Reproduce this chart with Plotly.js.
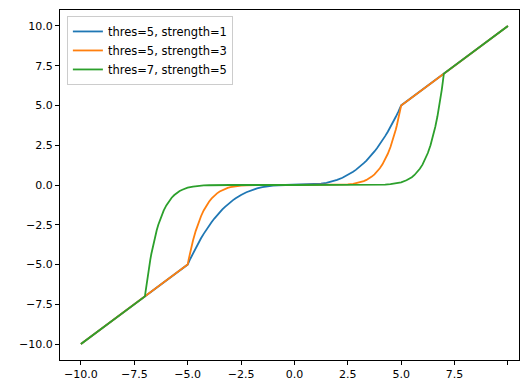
<!DOCTYPE html>
<html>
<head>
<meta charset="utf-8">
<script src="https://cdn.plot.ly/plotly-3.0.1.min.js"></script>
<style>html,body{margin:0;padding:0;background:#fff;}#plot{width:520px;height:380px;}</style>
</head>
<body>
<div id="plot"></div>
<script>
// Series 1: thres=5, strength=1
const xBlue = [-10, -5, -4.875, -4.75, -4.625, -4.5, -4.375, -4.25, -4.125, -4, -3.875, -3.75, -3.625, -3.5, -3.375, -3.25, -3.125, -3, -2.875, -2.75, -2.625, -2.5, -2.25, -2, -1.75, -1.5, -1.25, -1, -0.75, -0.5, -0.25, 0,
               0.25, 0.5, 0.75, 1, 1.25, 1.5, 1.75, 2, 2.25, 2.5, 2.625, 2.75, 2.875, 3, 3.125, 3.25, 3.375, 3.5, 3.625, 3.75, 3.875, 4, 4.125, 4.25, 4.375, 4.5, 4.625, 4.75, 4.875, 5, 10];
const yBlue = [-10, -5, -4.634, -4.287, -3.957, -3.645, -3.350, -3.071, -2.808, -2.56, -2.327, -2.109, -1.905, -1.715, -1.538, -1.373, -1.221, -1.08, -0.951, -0.832, -0.723, -0.625, -0.456, -0.32, -0.214, -0.135, -0.078, -0.04, -0.017, -0.005, -0.001, 0,
               0.001, 0.005, 0.017, 0.04, 0.078, 0.135, 0.214, 0.32, 0.456, 0.625, 0.723, 0.832, 0.951, 1.08, 1.221, 1.373, 1.538, 1.715, 1.905, 2.109, 2.327, 2.56, 2.808, 3.071, 3.350, 3.645, 3.957, 4.287, 4.634, 5, 10];

// Series 2: thres=5, strength=3
const xOrange = [-10, -5, -4.95, -4.9, -4.8, -4.75, -4.625, -4.5, -4.375, -4.25, -4.125, -4, -3.875, -3.75, -3.625, -3.5, -3.375, -3.25, -3.125, -3, -2.75, -2.5, -2.25, -2, -1.75, -1.5, -1, 0,
                 1, 1.5, 1.75, 2, 2.25, 2.5, 2.75, 3, 3.125, 3.25, 3.375, 3.5, 3.625, 3.75, 3.875, 4, 4.125, 4.25, 4.375, 4.5, 4.625, 4.75, 4.8, 4.9, 4.95, 5, 10];
const yOrange = [-10, -5, -4.66, -4.34, -3.757, -3.49, -2.897, -2.39, -1.963, -1.60, -1.30, -1.05, -0.840, -0.667, -0.527, -0.412, -0.319, -0.245, -0.186, -0.14, -0.076, -0.039, -0.019, -0.008, -0.003, -0.001, -0.0001, 0,
                 0.0001, 0.001, 0.003, 0.008, 0.019, 0.039, 0.076, 0.14, 0.186, 0.245, 0.319, 0.412, 0.527, 0.667, 0.840, 1.05, 1.30, 1.60, 1.963, 2.39, 2.897, 3.49, 3.757, 4.34, 4.66, 5, 10];

// Series 3: thres=7, strength=5
const xGreen = [-10, -7, -6.975, -6.95, -6.9, -6.85, -6.8, -6.75, -6.7, -6.6, -6.55, -6.5, -6.45, -6.375, -6.25, -6.125, -6, -5.875, -5.75, -5.625, -5.5, -5.375, -5.25, -5, -4.75, -4.5, -4.25, -4, -3.5, -3, 0,
                3, 3.5, 4, 4.25, 4.5, 4.75, 5, 5.25, 5.375, 5.5, 5.625, 5.75, 5.875, 6, 6.125, 6.25, 6.375, 6.45, 6.5, 6.55, 6.6, 6.7, 6.75, 6.8, 6.85, 6.9, 6.95, 6.975, 7, 10];
const yGreen = [-10, -7, -6.73, -6.47, -5.97, -5.52, -5.09, -4.69, -4.32, -3.66, -3.37, -3.10, -2.85, -2.50, -2.01, -1.61, -1.28, -1.02, -0.80, -0.63, -0.49, -0.38, -0.30, -0.17, -0.098, -0.054, -0.029, -0.015, -0.003, -0.0006, 0,
                0.0006, 0.003, 0.015, 0.029, 0.054, 0.098, 0.17, 0.30, 0.38, 0.49, 0.63, 0.80, 1.02, 1.28, 1.61, 2.01, 2.50, 2.85, 3.10, 3.37, 3.66, 4.32, 4.69, 5.09, 5.52, 5.97, 6.47, 6.73, 7, 10];

const seriesNames = ["thres=5, strength=1", "thres=5, strength=3", "thres=7, strength=5"];
const xTickVals = [-10, -7.5, -5, -2.5, 0, 2.5, 5, 7.5, 10];
const yTickVals = [-10, -7.5, -5, -2.5, 0, 2.5, 5, 7.5, 10];

const font = {family: "DejaVu Sans, sans-serif", size: 11, color: "#000"};
const mk = (x, y, name, color) => ({x, y, name, type: "scatter", mode: "lines",
  line: {color, width: 1.8}, hoverinfo: "skip"});

const data = [
  mk(xBlue, yBlue, seriesNames[0], "#1f77b4"),
  mk(xOrange, yOrange, seriesNames[1], "#ff7f0e"),
  mk(xGreen, yGreen, seriesNames[2], "#2ca02c")
];

const axisBase = {showgrid: false, zeroline: false, showline: true, mirror: true,
  linecolor: "#000", linewidth: 1, ticks: "outside", ticklen: 4, tickwidth: 1, tickcolor: "#000",
  tickfont: font, tickformat: ".1f", tickmode: "array"};

const layout = {
  width: 520, height: 380,
  margin: {l: 60, r: 1, t: 10, b: 20},
  paper_bgcolor: "#fff", plot_bgcolor: "#fff",
  font: font,
  showlegend: true,
  legend: {x: 0.015, y: 0.983, xanchor: "left", yanchor: "top",
    bgcolor: "rgba(255,255,255,0.8)", bordercolor: "#cccccc", borderwidth: 1,
    font: {family: "DejaVu Sans, sans-serif", size: 11.5, color: "#000"}},
  xaxis: Object.assign({}, axisBase, {range: [-10.98, 10.52], tickvals: xTickVals}),
  yaxis: Object.assign({}, axisBase, {range: [-11, 11], tickvals: yTickVals})
};

Plotly.newPlot("plot", data, layout, {displayModeBar: false, staticPlot: true});
</script>
</body>
</html>
